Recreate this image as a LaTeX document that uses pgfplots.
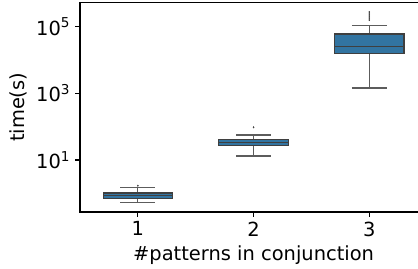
\documentclass[border=0pt]{standalone}
\usepackage{pgfplots}
\pgfplotsset{compat=1.18}
\usepgfplotslibrary{statistics}
\usepackage{fontspec}
\setmainfont{DejaVu Sans}
\definecolor{boxblue}{HTML}{3274A1}
\definecolor{edge}{HTML}{3F3F3F}
% y values are log10(time in s)
\begin{document}
\begin{tikzpicture}
\begin{axis}[name=ax,
  width=250bp, height=150.7bp, scale only axis,
  xmin=0.5, xmax=3.5, ymin=-0.56, ymax=5.72,
  xtick={1,2,3}, xticklabels={1,2,3},
  ytick={1,3,5},
  yticklabels={10\textsuperscript{1},10\textsuperscript{3},10\textsuperscript{5}},
  yminorticks=false, xminorticks=false,
  tick align=outside, tick pos=left, major tick length=3.5bp,
  axis line style={line width=0.8bp},
  every tick/.style={line width=0.8bp, black},
  tick label style={font=\fontsize{14bp}{16bp}\selectfont},
  label style={font=\fontsize{14bp}{16bp}\selectfont},
  xlabel={\#patterns in conjunction},
  ylabel={time(s)},
  boxplot/draw direction=y,
  boxplot/every box/.style={fill=boxblue, draw=edge, line width=0.8bp},
  boxplot/every whisker/.style={draw=edge!85!white, line width=0.8bp},
  boxplot/every median/.style={draw=edge, line width=1.1bp},
]
\addplot[boxplot prepared={draw position=1, median=-0.071, upper quartile=0.01,
  lower quartile=-0.149, upper whisker=0.181, lower whisker=-0.281,
  box extend=0.6, whisker extend=0.3},
  mark=diamond*, mark size=0.6bp, mark options={fill=edge, draw=edge, line width=0.2bp}]
  table[row sep=\\, y index=0] {data\\ 0.229\\};
\addplot[boxplot prepared={draw position=2, median=1.531, upper quartile=1.621,
  lower quartile=1.441, upper whisker=1.75, lower whisker=1.12,
  box extend=0.6, whisker extend=0.3},
  mark=diamond*, mark size=0.6bp, mark options={fill=edge, draw=edge, line width=0.2bp}]
  table[row sep=\\, y index=0] {data\\ 1.981\\};
\addplot[boxplot prepared={draw position=3, median=4.41, upper quartile=4.78,
  lower quartile=4.19, upper whisker=5.042, lower whisker=3.16,
  box extend=0.6, whisker extend=0.3},
  mark=diamond*, mark size=0.6bp, mark options={fill=edge, draw=edge, line width=0.2bp}]
  table[row sep=\\, y index=0] {data\\ 5.44\\ 5.38\\ 5.32\\ 5.26\\ 5.20\\};
\end{axis}
\pgfresetboundingbox
\path[use as bounding box] ([xshift=-57.6bp,yshift=-41.04bp]ax.south west) rectangle ([xshift=243.4bp,yshift=152.64bp]ax.south west);
\end{tikzpicture}
\end{document}
